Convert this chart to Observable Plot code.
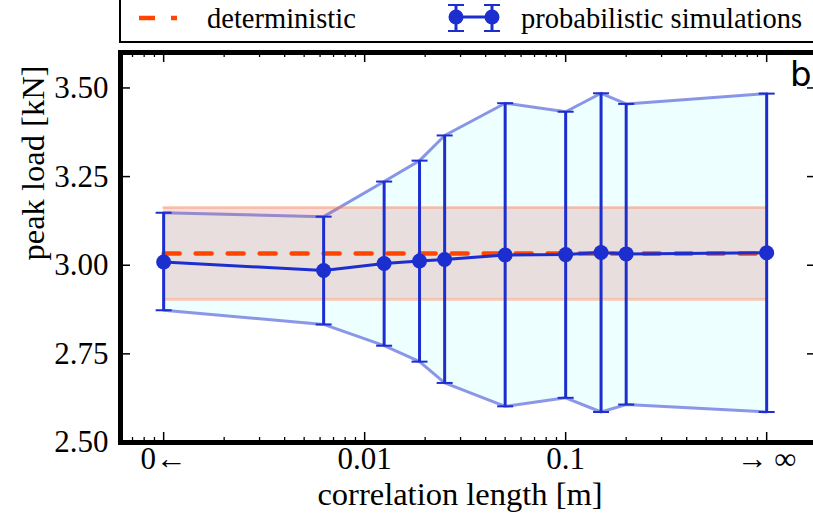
<!DOCTYPE html>
<html>
<head>
<meta charset="utf-8">
<script src="https://cdn.jsdelivr.net/npm/d3@7"></script>
<script src="https://cdn.jsdelivr.net/npm/@observablehq/plot@0.6"></script>
<style>
  body { margin: 0; background: white; }
  #wrap { position: relative; width: 813px; height: 529px; overflow: hidden; background: white; }
  #chart { position: absolute; left: 0; top: 0; width: 830px; }
  #chart svg { max-width: none !important; }
  #legend { position: absolute; left: 119px; top: -12px; width: 760px; height: 55px; box-sizing: border-box;
            border: 2px solid black; background: white; }
  #legsvg { position: absolute; left: 0; top: 0; }
  #legsvg text { font-family: "Liberation Serif", LiberationSerif, Tinos, "DejaVu Serif", serif; }
  #panel { position: absolute; left: 790px; top: 57px; font-family: "DejaVu Sans", sans-serif; font-size: 34px; color: black; line-height: 1; }
</style>
</head>
<body>
<div id="wrap">
  <div id="chart"></div>
  <div id="legend"></div>
  <svg id="legsvg" width="813" height="45" xmlns="http://www.w3.org/2000/svg"></svg>
  <div id="panel">b</div>
</div>
<script>
// ---- data ----
// correlation length [m]; 0.001 stands for "0←" and 1 stands for "→∞"
const corrLength = [0.001, 0.00625, 0.0125, 0.01875, 0.025, 0.05, 0.1, 0.15, 0.2, 1];
const meanLoad  = [3.009, 2.985, 3.005, 3.012, 3.016, 3.029, 3.030, 3.036, 3.032, 3.035];
const upperLoad = [3.148, 3.137, 3.236, 3.295, 3.366, 3.457, 3.433, 3.485, 3.455, 3.484];
const lowerLoad = [2.873, 2.833, 2.773, 2.728, 2.668, 2.602, 2.626, 2.586, 2.607, 2.586];

const detExtent = [0.001, 1];
const detLoad = 3.033;
const detLower = 2.903;
const detUpper = 3.163;

const xMajorTicks = [0.001, 0.01, 0.1, 1];
const xTickLabels = ["0\u2190", "0.01", "0.1", "\u2192\u2009\u221E"];
const xMinorTicks = [0.0007, 0.0008, 0.0009,
  0.002, 0.003, 0.004, 0.005, 0.006, 0.007, 0.008, 0.009,
  0.02, 0.03, 0.04, 0.05, 0.06, 0.07, 0.08, 0.09,
  0.2, 0.3, 0.4, 0.5, 0.6, 0.7, 0.8, 0.9];
const yTicks = [2.5, 2.75, 3.0, 3.25, 3.5];

const xLabel = "correlation length [m]";
const yLabel = "peak load [kN]";

// ---- build tables ----
const table = corrLength.map((x, i) => ({x, mean: meanLoad[i], lo: lowerLoad[i], hi: upperLoad[i]}));
const detTable = detExtent.map(x => ({x, y: detLoad, lo: detLower, hi: detUpper}));

const BLUE = "#1d2ecf";
const ORANGE = "#ff4500";
const SERIF = "\"Liberation Serif\", LiberationSerif, Tinos, \"DejaVu Serif\", serif";

const W = 830, H = 529;
const mL = 120, mR = 13, mT = 52, mB = 87;
const plotH = H - mT - mB, plotW = W - mL - mR;

const capSymbol = {
  draw(context, size) {
    const w = Math.sqrt(size / Math.PI);
    context.moveTo(-w, 0);
    context.lineTo(w, 0);
  }
};

const chart = Plot.plot({
  width: W,
  height: H,
  marginLeft: mL, marginRight: mR, marginTop: mT, marginBottom: mB,
  style: {background: "transparent", fontFamily: SERIF, overflow: "visible", maxWidth: "none"},
  x: {type: "log", domain: [0.00061, 1.79], axis: null},
  y: {domain: [2.5, 3.6], axis: null},
  marks: [
    // probabilistic band
    Plot.areaY(table, {x: "x", y1: "lo", y2: "hi", fill: "#eeffff", curve: "linear"}),
    Plot.line(table, {x: "x", y: "hi", stroke: BLUE, strokeOpacity: 0.5, strokeWidth: 3}),
    Plot.line(table, {x: "x", y: "lo", stroke: BLUE, strokeOpacity: 0.5, strokeWidth: 3}),
    // deterministic band
    Plot.areaY(detTable, {x: "x", y1: "lo", y2: "hi", fill: "rgb(208,90,90)", fillOpacity: 0.2}),
    Plot.line(detTable, {x: "x", y: "hi", stroke: "#ff7f50", strokeOpacity: 0.35, strokeWidth: 3}),
    Plot.line(detTable, {x: "x", y: "lo", stroke: "#ff7f50", strokeOpacity: 0.35, strokeWidth: 3}),
    Plot.line(detTable, {x: "x", y: "y", stroke: ORANGE, strokeWidth: 4.5, strokeDasharray: "16,16"}),
    // error bars
    Plot.ruleX(table, {x: "x", y1: "lo", y2: "hi", stroke: BLUE, strokeWidth: 3}),
    Plot.dot(table, {x: "x", y: "hi", symbol: capSymbol, r: 8, stroke: BLUE, strokeWidth: 2, fill: "none"}),
    Plot.dot(table, {x: "x", y: "lo", symbol: capSymbol, r: 8, stroke: BLUE, strokeWidth: 2, fill: "none"}),
    Plot.line(table, {x: "x", y: "mean", stroke: BLUE, strokeWidth: 3}),
    Plot.dot(table, {x: "x", y: "mean", r: 7.5, fill: BLUE, stroke: "none"}),
    // frame
    Plot.frame({stroke: "black", strokeWidth: 5}),
    // inward ticks: bottom / top
    Plot.tickX(xMajorTicks, {x: d => d, insetTop: plotH - 10, stroke: "black", strokeWidth: 1.5}),
    Plot.tickX(xMinorTicks, {x: d => d, insetTop: plotH - 5, stroke: "black", strokeWidth: 1.3}),
    Plot.tickX(xMajorTicks, {x: d => d, insetBottom: plotH - 10, stroke: "black", strokeWidth: 1.5}),
    Plot.tickX(xMinorTicks, {x: d => d, insetBottom: plotH - 5, stroke: "black", strokeWidth: 1.3}),
    // inward ticks: left / right
    Plot.tickY(yTicks, {y: d => d, insetRight: plotW - 10, stroke: "black", strokeWidth: 1.5}),
    Plot.tickY(yTicks, {y: d => d, insetLeft: plotW - 10, stroke: "black", strokeWidth: 1.5}),
    // tick labels
    Plot.text(xMajorTicks, {x: d => d, frameAnchor: "bottom", dy: 26, text: (d, i) => xTickLabels[i],
      fontSize: 31, fontFamily: SERIF, fill: "black"}),
    Plot.text(yTicks, {y: d => d, frameAnchor: "left", dx: -12, textAnchor: "end", text: d => d.toFixed(2),
      fontSize: 31, fontFamily: SERIF, fill: "black"}),
    // axis labels
    Plot.text([xLabel], {frameAnchor: "bottom", dy: 62, dx: -9, text: d => d, fontSize: 32.5, fontFamily: SERIF, fill: "black"}),
    Plot.text([yLabel], {frameAnchor: "left", dx: -87, dy: 13, rotate: -90, text: d => d, fontSize: 32.5, fontFamily: SERIF, fill: "black"})
  ]
});
document.getElementById("chart").appendChild(chart);

// ---- legend ----
const ns = "http://www.w3.org/2000/svg";
const leg = document.getElementById("legsvg");
function el(tag, attrs, text) {
  const e = document.createElementNS(ns, tag);
  for (const k in attrs) e.setAttribute(k, attrs[k]);
  if (text) e.textContent = text;
  leg.appendChild(e);
  return e;
}
el("line", {x1: 139, x2: 177, y1: 18, y2: 18, stroke: ORANGE, "stroke-width": 4.5, "stroke-dasharray": "16,16"});
el("text", {x: 207, y: 28, "font-size": 28.5, fill: "black"}, "deterministic");
el("line", {x1: 456, x2: 492, y1: 17, y2: 17, stroke: BLUE, "stroke-width": 3});
for (const cx of [456, 492]) {
  el("line", {x1: cx, x2: cx, y1: 5, y2: 31, stroke: BLUE, "stroke-width": 3});
  el("line", {x1: cx - 8, x2: cx + 8, y1: 5, y2: 5, stroke: BLUE, "stroke-width": 2});
  el("line", {x1: cx - 8, x2: cx + 8, y1: 31, y2: 31, stroke: BLUE, "stroke-width": 2});
  el("circle", {cx, cy: 17, r: 7.5, fill: BLUE});
}
el("text", {x: 521, y: 28, "font-size": 28.5, fill: "black"}, "probabilistic simulations");
</script>
</body>
</html>
